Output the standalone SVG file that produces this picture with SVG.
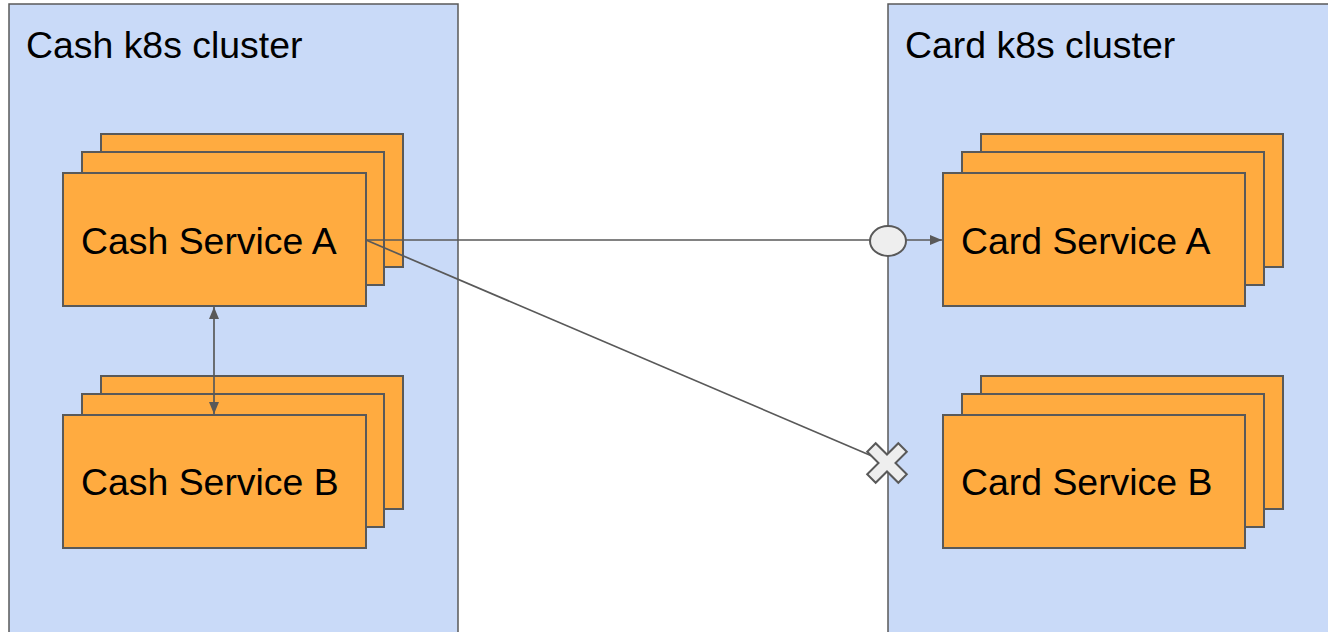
<svg xmlns="http://www.w3.org/2000/svg" width="1328" height="632" viewBox="0 0 1328 632">
  <style>
    .cluster { fill: #c9daf8; stroke: #595959; stroke-width: 1.5; }
    .svc { fill: #ffab40; stroke: #595959; stroke-width: 2; }
    .label { font-family: "Liberation Sans", Arial, sans-serif; font-size: 37.4px; fill: #000000; }
    .conn { fill: none; stroke: #595959; stroke-width: 1.7; }
    .end { fill: #eeeeee; stroke: #595959; stroke-width: 2; }
  </style>
  <defs>
    <marker id="arrow" viewBox="0 0 12 10" refX="12" refY="5" markerWidth="12" markerHeight="10" markerUnits="userSpaceOnUse" orient="auto-start-reverse">
      <path d="M0,0 L12,5 L0,10 Z" fill="#595959"/>
    </marker>
  </defs>

  <rect width="1328" height="632" fill="#ffffff"/>

  <!-- clusters -->
  <g id="cash-cluster">
    <rect class="cluster" x="9" y="4" width="449" height="640"/>
    <text class="label" x="26" y="58">Cash k8s cluster</text>
  </g>
  <g id="card-cluster">
    <rect class="cluster" x="888" y="4" width="450" height="640"/>
    <text class="label" x="905" y="58">Card k8s cluster</text>
  </g>

  <!-- service stacks: three replicas each -->
  <g id="cash-service-a">
    <rect class="svc" x="101" y="134" width="302" height="133"/>
    <rect class="svc" x="82" y="152" width="302" height="133"/>
    <rect class="svc" x="63" y="173" width="303" height="133"/>
    <text class="label" x="81" y="254">Cash Service A</text>
  </g>
  <g id="cash-service-b">
    <rect class="svc" x="101" y="376" width="302" height="133"/>
    <rect class="svc" x="82" y="394" width="302" height="133"/>
    <rect class="svc" x="63" y="415" width="303" height="133"/>
    <text class="label" x="81" y="495">Cash Service B</text>
  </g>
  <g id="card-service-a">
    <rect class="svc" x="981" y="134" width="302" height="133"/>
    <rect class="svc" x="962" y="152" width="302" height="133"/>
    <rect class="svc" x="943" y="173" width="302" height="133"/>
    <text class="label" x="961" y="254">Card Service A</text>
  </g>
  <g id="card-service-b">
    <rect class="svc" x="981" y="376" width="302" height="133"/>
    <rect class="svc" x="962" y="394" width="302" height="133"/>
    <rect class="svc" x="943" y="415" width="302" height="133"/>
    <text class="label" x="961" y="495">Card Service B</text>
  </g>

  <!-- connectors -->
  <g id="connectors">
    <line class="conn" x1="214" y1="307" x2="214" y2="414" marker-start="url(#arrow)" marker-end="url(#arrow)"/>
    <line class="conn" x1="366" y1="240" x2="942" y2="240" marker-end="url(#arrow)"/>
    <line class="conn" x1="366" y1="240" x2="886" y2="462"/>
    <!-- allowed ingress point -->
    <ellipse class="end" cx="888" cy="241" rx="18" ry="15"/>
    <!-- blocked ingress point -->
    <path class="end" transform="translate(887,463) rotate(45)" d="M-6,-22 H6 V-6 H22 V6 H6 V22 H-6 V6 H-22 V-6 H-6 Z"/>
  </g>
</svg>
